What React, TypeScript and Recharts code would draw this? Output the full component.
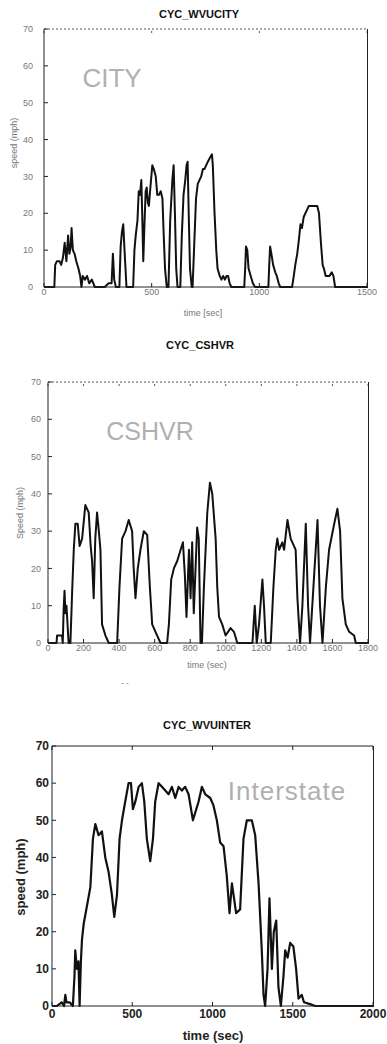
import React from 'react'
import { LineChart, Line, XAxis, YAxis } from 'recharts'

// speed traces: t in sec, v in mph
const cityCycle = [
  { t: 0, v: 0 }, { t: 48, v: 0 }, { t: 52, v: 6 }, { t: 60, v: 7 }, { t: 72, v: 7 }, { t: 80, v: 6 },
  { t: 88, v: 8 }, { t: 96, v: 12 }, { t: 104, v: 7 }, { t: 112, v: 14 }, { t: 118, v: 9 }, { t: 124, v: 11 },
  { t: 128, v: 16 }, { t: 134, v: 10 }, { t: 142, v: 9 }, { t: 150, v: 7 }, { t: 160, v: 5 }, { t: 168, v: 3 },
  { t: 174, v: 0 }, { t: 180, v: 3 }, { t: 190, v: 2 }, { t: 200, v: 3 }, { t: 210, v: 1 }, { t: 222, v: 2 },
  { t: 236, v: 0 }, { t: 282, v: 0 }, { t: 300, v: 1 }, { t: 314, v: 1 }, { t: 320, v: 9 }, { t: 326, v: 2 },
  { t: 334, v: 0 }, { t: 350, v: 0 }, { t: 356, v: 11 }, { t: 362, v: 15 }, { t: 368, v: 17 }, { t: 374, v: 10 },
  { t: 383, v: 0 }, { t: 414, v: 0 }, { t: 420, v: 10 }, { t: 426, v: 14 }, { t: 434, v: 18 }, { t: 440, v: 26 },
  { t: 446, v: 25 }, { t: 452, v: 29 }, { t: 456, v: 20 }, { t: 461, v: 7 }, { t: 466, v: 16 }, { t: 472, v: 26 },
  { t: 477, v: 27 }, { t: 482, v: 23 }, { t: 487, v: 22 }, { t: 494, v: 27 }, { t: 503, v: 33 }, { t: 510, v: 32 },
  { t: 519, v: 30 }, { t: 526, v: 25 }, { t: 534, v: 25 }, { t: 542, v: 26 }, { t: 550, v: 24 }, { t: 556, v: 14 },
  { t: 562, v: 5 }, { t: 570, v: 0 }, { t: 578, v: 0 }, { t: 586, v: 18 }, { t: 596, v: 29 }, { t: 602, v: 33 },
  { t: 608, v: 20 }, { t: 614, v: 5 }, { t: 620, v: 0 }, { t: 633, v: 0 }, { t: 640, v: 14 }, { t: 648, v: 25 },
  { t: 656, v: 29 }, { t: 662, v: 33 }, { t: 667, v: 34 }, { t: 672, v: 20 }, { t: 678, v: 5 }, { t: 686, v: 0 },
  { t: 690, v: 0 }, { t: 698, v: 12 }, { t: 706, v: 24 }, { t: 714, v: 28 }, { t: 722, v: 29 }, { t: 730, v: 30 },
  { t: 738, v: 32 }, { t: 745, v: 32 }, { t: 753, v: 33 }, { t: 761, v: 34 }, { t: 770, v: 35 }, { t: 780, v: 36 },
  { t: 784, v: 33 }, { t: 792, v: 20 }, { t: 800, v: 10 }, { t: 806, v: 5 }, { t: 816, v: 3 }, { t: 824, v: 2 },
  { t: 832, v: 3 }, { t: 840, v: 2 }, { t: 848, v: 3 }, { t: 855, v: 3 }, { t: 862, v: 1 }, { t: 870, v: 0 },
  { t: 930, v: 0 }, { t: 935, v: 6 }, { t: 938, v: 11 }, { t: 944, v: 10 }, { t: 950, v: 5 }, { t: 960, v: 3 },
  { t: 970, v: 1 }, { t: 980, v: 0 }, { t: 1042, v: 0 }, { t: 1046, v: 6 }, { t: 1050, v: 11 }, { t: 1056, v: 9 },
  { t: 1064, v: 6 }, { t: 1074, v: 4 }, { t: 1081, v: 3 }, { t: 1090, v: 1 }, { t: 1097, v: 0 }, { t: 1152, v: 0 },
  { t: 1160, v: 3 }, { t: 1167, v: 6 }, { t: 1176, v: 9 }, { t: 1184, v: 13 }, { t: 1191, v: 17 }, { t: 1198, v: 16 },
  { t: 1206, v: 19 }, { t: 1214, v: 20 }, { t: 1222, v: 21 }, { t: 1230, v: 22 }, { t: 1245, v: 22 }, { t: 1258, v: 22 },
  { t: 1269, v: 22 }, { t: 1277, v: 20 }, { t: 1286, v: 12 }, { t: 1294, v: 6 }, { t: 1300, v: 5 }, { t: 1308, v: 3 },
  { t: 1316, v: 3 }, { t: 1326, v: 3 }, { t: 1336, v: 4 }, { t: 1344, v: 3 }, { t: 1352, v: 0 }, { t: 1500, v: 0 },
]

const cshvrCycle = [
  { t: 0, v: 0 }, { t: 48, v: 0 }, { t: 51, v: 2 }, { t: 79, v: 2 }, { t: 83, v: 0 }, { t: 88, v: 9 },
  { t: 93, v: 14 }, { t: 98, v: 8 }, { t: 104, v: 10 }, { t: 116, v: 0 }, { t: 126, v: 0 }, { t: 136, v: 14 },
  { t: 145, v: 25 }, { t: 154, v: 32 }, { t: 167, v: 32 }, { t: 178, v: 26 }, { t: 192, v: 28 }, { t: 210, v: 37 },
  { t: 229, v: 35 }, { t: 240, v: 26 }, { t: 248, v: 22 }, { t: 257, v: 12 }, { t: 266, v: 28 }, { t: 276, v: 35 },
  { t: 286, v: 30 }, { t: 295, v: 25 }, { t: 304, v: 5 }, { t: 323, v: 2 }, { t: 342, v: 0 }, { t: 389, v: 0 },
  { t: 402, v: 15 }, { t: 417, v: 28 }, { t: 436, v: 30 }, { t: 454, v: 33 }, { t: 473, v: 30 }, { t: 482, v: 20 },
  { t: 492, v: 12 }, { t: 505, v: 20 }, { t: 520, v: 25 }, { t: 539, v: 30 }, { t: 558, v: 29 }, { t: 573, v: 15 },
  { t: 586, v: 5 }, { t: 614, v: 2 }, { t: 633, v: 0 }, { t: 670, v: 0 }, { t: 680, v: 5 }, { t: 693, v: 17 },
  { t: 708, v: 20 }, { t: 727, v: 22 }, { t: 746, v: 25 }, { t: 759, v: 27 }, { t: 770, v: 18 }, { t: 779, v: 7 },
  { t: 793, v: 25 }, { t: 802, v: 12 }, { t: 811, v: 27 }, { t: 820, v: 8 }, { t: 830, v: 20 }, { t: 839, v: 31 },
  { t: 848, v: 28 }, { t: 858, v: 0 }, { t: 866, v: 0 }, { t: 877, v: 15 }, { t: 896, v: 35 }, { t: 911, v: 43 },
  { t: 924, v: 40 }, { t: 943, v: 28 }, { t: 952, v: 15 }, { t: 962, v: 7 }, { t: 980, v: 5 }, { t: 999, v: 2 },
  { t: 1027, v: 4 }, { t: 1046, v: 3 }, { t: 1065, v: 0 }, { t: 1150, v: 0 }, { t: 1163, v: 10 }, { t: 1174, v: 0 },
  { t: 1187, v: 5 }, { t: 1206, v: 17 }, { t: 1215, v: 10 }, { t: 1225, v: 0 }, { t: 1253, v: 0 }, { t: 1268, v: 15 },
  { t: 1281, v: 25 }, { t: 1290, v: 28 }, { t: 1300, v: 25 }, { t: 1318, v: 27 }, { t: 1328, v: 25 }, { t: 1347, v: 33 },
  { t: 1365, v: 28 }, { t: 1384, v: 26 }, { t: 1393, v: 25 }, { t: 1403, v: 12 }, { t: 1418, v: 0 }, { t: 1431, v: 10 },
  { t: 1450, v: 32 }, { t: 1463, v: 10 }, { t: 1474, v: 0 }, { t: 1493, v: 15 }, { t: 1516, v: 33 }, { t: 1530, v: 10 },
  { t: 1544, v: 0 }, { t: 1563, v: 15 }, { t: 1581, v: 25 }, { t: 1610, v: 32 }, { t: 1628, v: 36 }, { t: 1643, v: 30 },
  { t: 1656, v: 12 }, { t: 1675, v: 5 }, { t: 1694, v: 3 }, { t: 1722, v: 2 }, { t: 1731, v: 0 }, { t: 1800, v: 0 },
]

const interCycle = [
  { t: 0, v: 0 }, { t: 30, v: 0 }, { t: 60, v: 1 }, { t: 75, v: 0 }, { t: 83, v: 3 }, { t: 90, v: 1 },
  { t: 110, v: 1 }, { t: 130, v: 0 }, { t: 140, v: 8 }, { t: 145, v: 15 }, { t: 155, v: 10 }, { t: 165, v: 12 },
  { t: 172, v: 0 }, { t: 180, v: 12 }, { t: 187, v: 18 }, { t: 197, v: 22 }, { t: 218, v: 27 }, { t: 239, v: 32 },
  { t: 255, v: 45 }, { t: 270, v: 49 }, { t: 290, v: 46 }, { t: 311, v: 47 }, { t: 332, v: 40 }, { t: 353, v: 36 },
  { t: 373, v: 30 }, { t: 388, v: 24 }, { t: 405, v: 30 }, { t: 421, v: 45 }, { t: 436, v: 50 }, { t: 456, v: 55 },
  { t: 477, v: 60 }, { t: 492, v: 60 }, { t: 504, v: 53 }, { t: 519, v: 55 }, { t: 540, v: 59 }, { t: 560, v: 60 },
  { t: 575, v: 55 }, { t: 591, v: 45 }, { t: 612, v: 39 }, { t: 629, v: 45 }, { t: 643, v: 55 }, { t: 664, v: 60 },
  { t: 685, v: 59 }, { t: 706, v: 58 }, { t: 726, v: 57 }, { t: 747, v: 59 }, { t: 768, v: 56 }, { t: 789, v: 59 },
  { t: 809, v: 58 }, { t: 830, v: 59 }, { t: 851, v: 57 }, { t: 878, v: 50 }, { t: 892, v: 52 }, { t: 913, v: 55 },
  { t: 934, v: 59 }, { t: 955, v: 57 }, { t: 986, v: 56 }, { t: 1006, v: 54 }, { t: 1027, v: 50 }, { t: 1048, v: 44 },
  { t: 1069, v: 43 }, { t: 1089, v: 35 }, { t: 1106, v: 25 }, { t: 1121, v: 33 }, { t: 1131, v: 30 }, { t: 1147, v: 25 },
  { t: 1172, v: 26 }, { t: 1193, v: 45 }, { t: 1214, v: 50 }, { t: 1245, v: 50 }, { t: 1266, v: 46 }, { t: 1287, v: 33 },
  { t: 1307, v: 15 }, { t: 1318, v: 3 }, { t: 1328, v: 0 }, { t: 1343, v: 10 }, { t: 1355, v: 29 }, { t: 1370, v: 10 },
  { t: 1382, v: 20 }, { t: 1397, v: 23 }, { t: 1411, v: 5 }, { t: 1426, v: 0 }, { t: 1442, v: 8 }, { t: 1453, v: 15 },
  { t: 1468, v: 13 }, { t: 1484, v: 17 }, { t: 1504, v: 16 }, { t: 1521, v: 10 }, { t: 1536, v: 2 }, { t: 1556, v: 3 },
  { t: 1570, v: 1 }, { t: 1608, v: 0.5 }, { t: 1640, v: 0 }, { t: 2000, v: 0 },
]

const speedTicks = [0, 10, 20, 30, 40, 50, 60, 70]
const cityTimeTicks = [0, 500, 1000, 1500]
const cshvrTimeTicks = [0, 200, 400, 600, 800, 1000, 1200, 1400, 1600, 1800]
const interTimeTicks = [0, 500, 1000, 1500, 2000]

const font = 'Arial, "Liberation Sans", sans-serif'

type PanelProps = {
  data: { t: number; v: number }[]
  top: number
  height: number
  margin: { top: number; right: number; bottom: number; left: number }
  xMax: number
  xTicks: number[]
  yWidth: number
  xHeight: number
  tickFont: number
  tickColor: string
  tickWeight: number
  yGap: number
  xGap: number
  dottedTop: boolean
  lineWidth: number
}

function Panel(p: PanelProps) {
  const tickStyle = { fontSize: p.tickFont, fill: p.tickColor, fontWeight: p.tickWeight, fontFamily: font }
  const blank = () => ''
  const plotLeft = p.margin.left + p.yWidth
  const plotTop = p.margin.top + 1
  const plotBottom = p.height - p.margin.bottom - p.xHeight
  const plotRight = 387 - p.margin.right
  return (
    <div style={{ position: 'absolute', left: 0, top: p.top, width: 387, height: p.height }}>
      <LineChart width={387} height={p.height} data={p.data} margin={p.margin}>
        <XAxis
          dataKey="t"
          type="number"
          domain={[0, p.xMax]}
          ticks={p.xTicks}
          allowDataOverflow
          height={p.xHeight}
          tickSize={-4}
          tickMargin={4 + p.xGap}
          tick={tickStyle}
          stroke="#222"
          interval={0}
        />
        <XAxis
          xAxisId="top"
          orientation="top"
          dataKey="t"
          type="number"
          domain={[0, p.xMax]}
          ticks={p.xTicks}
          allowDataOverflow
          height={1}
          tickSize={-4}
          tickFormatter={blank}
          stroke={p.dottedTop ? '#555' : '#222'}
          strokeDasharray={p.dottedTop ? '2 2' : undefined}
          interval={0}
        />
        <YAxis
          type="number"
          domain={[0, 70]}
          ticks={speedTicks}
          width={p.yWidth}
          tickSize={-4}
          tickMargin={4 + p.yGap}
          tick={tickStyle}
          stroke="#222"
          interval={0}
        />
        <Line
          type="linear"
          dataKey="v"
          stroke="#111"
          strokeWidth={p.lineWidth}
          strokeLinejoin="round"
          dot={false}
          isAnimationActive={false}
        />
        <Line
          xAxisId="top"
          type="linear"
          dataKey="v"
          stroke="transparent"
          strokeWidth={0}
          dot={false}
          activeDot={false}
          isAnimationActive={false}
        />
      </LineChart>
      {/* right side of the plot box, laid over the chart */}
      <div
        style={{
          position: 'absolute',
          left: plotLeft,
          top: plotTop,
          width: plotRight - plotLeft + 1,
          height: plotBottom - plotTop + 1,
          boxSizing: 'border-box',
          borderRight: '1px solid #222',
          pointerEvents: 'none',
          zIndex: 5,
        }}
      />
    </div>
  )
}

const abs = (extra: React.CSSProperties): React.CSSProperties => ({
  position: 'absolute',
  fontFamily: font,
  whiteSpace: 'nowrap',
  lineHeight: 1,
  ...extra,
})

function Centered({ x, y, text, style }: { x: number; y: number; text: string; style: React.CSSProperties }) {
  return <div style={abs({ left: x, top: y, transform: 'translate(-50%, -50%)', ...style })}>{text}</div>
}

function Vertical({ x, y, text, style }: { x: number; y: number; text: string; style: React.CSSProperties }) {
  return (
    <div style={abs({ left: x, top: y, transform: 'translate(-50%, -50%) rotate(-90deg)', ...style })}>{text}</div>
  )
}

export default function App() {
  const title = { fontSize: 11, fontWeight: 700, color: '#111' }
  const faint = { fontSize: 9, color: '#777' }
  const big = { fontSize: 26, color: '#b0b0b0' }
  return (
    <div style={{ position: 'relative', width: 387, height: 1044, background: '#fff', overflow: 'hidden' }}>
      <style>{'body{margin:0}'}</style>

      <Panel
        data={cityCycle}
        top={0}
        height={330}
        margin={{ top: 28, right: 20, bottom: 13, left: 14 }}
        xMax={1500}
        xTicks={cityTimeTicks}
        yWidth={30}
        xHeight={30}
        tickFont={9}
        tickColor="#777"
        tickWeight={400}
        yGap={11}
        xGap={2}
        dottedTop
        lineWidth={2}
      />
      <Centered x={199} y={14} text="CYC_WVUCITY" style={title} />
      <Centered x={112} y={78} text="CITY" style={big} />
      <Vertical x={14} y={143} text="speed (mph)" style={faint} />
      <Centered x={203} y={313} text="time [sec]" style={faint} />

      <Panel
        data={cshvrCycle}
        top={330}
        height={340}
        margin={{ top: 51, right: 19, bottom: 2, left: 18 }}
        xMax={1800}
        xTicks={cshvrTimeTicks}
        yWidth={30}
        xHeight={25}
        tickFont={9}
        tickColor="#777"
        tickWeight={400}
        yGap={7}
        xGap={2}
        dottedTop
        lineWidth={2}
      />
      <Centered x={200} y={345} text="CYC_CSHVR" style={title} />
      <Centered x={150} y={431} text="CSHVR" style={{ fontSize: 25, color: '#b0b0b0' }} />
      <Vertical x={20} y={513} text="Speed (mph)" style={faint} />
      <Centered x={207} y={665} text="time (sec)" style={faint} />
      <Centered x={125} y={683} text="- -" style={{ fontSize: 8, color: '#666' }} />

      <Panel
        data={interCycle}
        top={700}
        height={344}
        margin={{ top: 45, right: 14, bottom: 8, left: 18 }}
        xMax={2000}
        xTicks={interTimeTicks}
        yWidth={34}
        xHeight={30}
        tickFont={12}
        tickColor="#222"
        tickWeight={700}
        yGap={3}
        xGap={3}
        dottedTop={false}
        lineWidth={2.2}
      />
      <Centered x={207} y={725} text="CYC_WVUINTER" style={title} />
      <Centered x={287} y={791} text="Interstate" style={{ ...big, letterSpacing: 1 }} />
      <Vertical x={20} y={877} text="speed (mph)" style={{ fontSize: 13, fontWeight: 700, color: '#222' }} />
      <Centered x={213} y={1035} text="time (sec)" style={{ fontSize: 13, fontWeight: 700, color: '#222' }} />
    </div>
  )
}
